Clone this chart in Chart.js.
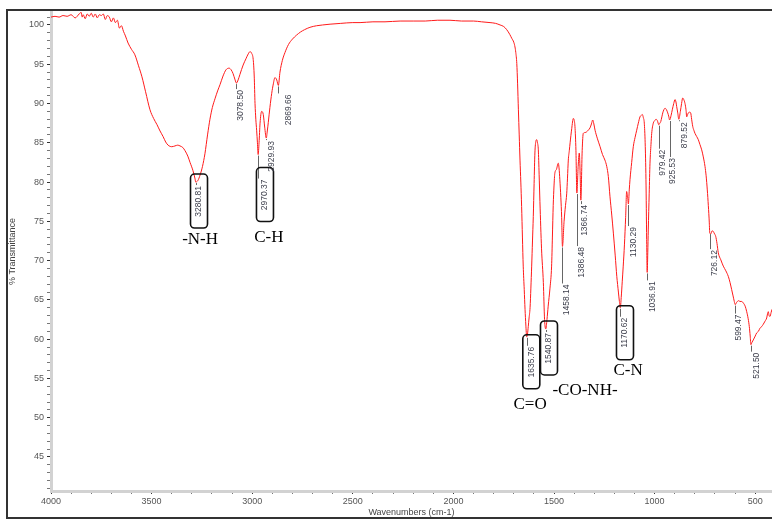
<!DOCTYPE html>
<html>
<head>
<meta charset="utf-8">
<script src="https://cdn.jsdelivr.net/npm/chart.js@4.4.0/dist/chart.umd.min.js"></script>
<style>
  html, body { margin: 0; padding: 0; background: #fff; overflow: hidden; }
  #frame { position: absolute; left: 6px; top: 9px; width: 800px; height: 506px; border: 2px solid #333; }
  #spectrum { position: absolute; left: 0; top: 0; }
</style>
</head>
<body>
<div id="frame"></div>
<canvas id="spectrum" width="772" height="520"></canvas>
<script>
// spectrum, wavenumber (cm-1) and %T
const wavenumbers = [
  4000, 3980, 3960, 3940, 3920, 3900, 3880, 3860, 3850, 3845, 3840, 3830, 3820, 3810, 3800,
  3790, 3780, 3770, 3760, 3750, 3740, 3730, 3720, 3710, 3700, 3690, 3680, 3670, 3660, 3650,
  3640, 3630, 3617, 3600, 3583, 3565, 3548, 3530, 3508, 3490, 3473, 3458, 3443, 3430, 3418,
  3400, 3384, 3370, 3359, 3345, 3334, 3320, 3309, 3295, 3284, 3281, 3270, 3259, 3247, 3235,
  3222, 3210, 3198, 3185, 3172, 3160, 3145, 3130, 3115, 3105, 3095, 3085, 3078.5, 3070, 3061,
  3045, 3031, 3020, 3011, 3003, 2995, 2990, 2986, 2982, 2978, 2974, 2970.4, 2966, 2961, 2953,
  2945, 2938, 2930, 2925, 2920, 2912, 2903, 2895, 2887, 2878, 2870, 2862, 2850, 2837, 2820,
  2800, 2780, 2760, 2740, 2713, 2680, 2650, 2613, 2560, 2500, 2464, 2400, 2340, 2265, 2200,
  2140, 2080, 2017, 1960, 1900, 1860, 1818, 1790, 1768, 1750, 1735, 1720, 1710, 1700, 1694,
  1690, 1685, 1681, 1677, 1673, 1669, 1665, 1661, 1657, 1653, 1648, 1644, 1640, 1635.8, 1632,
  1628, 1624, 1619, 1615, 1611, 1607, 1603, 1599, 1595, 1590, 1586, 1582, 1578, 1574, 1570,
  1562, 1553, 1547, 1540.9, 1535, 1529, 1520, 1512, 1508, 1504, 1500, 1496, 1488, 1479, 1475,
  1471, 1466, 1462, 1458.1, 1450, 1443, 1437, 1433, 1429, 1424, 1420, 1412, 1404, 1400, 1396,
  1391, 1386.5, 1380, 1374.4, 1370, 1366.7, 1360, 1354.5, 1346, 1337.6, 1330, 1321, 1314, 1307.7, 1302,
  1296, 1284, 1271, 1259, 1247, 1238, 1230, 1222, 1213, 1205, 1196, 1188, 1180, 1175, 1170.6,
  1166, 1161, 1156, 1150, 1144, 1139, 1134, 1130.3, 1126, 1122.4, 1114, 1106, 1097, 1089, 1081,
  1072.7, 1066, 1061.2, 1056, 1051.3, 1047, 1043, 1039.5, 1036.9, 1034, 1031.5, 1027, 1023, 1018, 1014.5,
  1006.6, 1000, 993, 986, 979.4, 974, 969.5, 964, 959.6, 954, 948.2, 941, 934.8, 930, 925.5,
  918, 912.2, 905, 898.7, 894, 890.3, 885, 879.8, 872, 866, 860.5, 855, 849, 844, 840.6,
  836, 832.6, 826, 820.7, 816, 810.7, 805, 799.3, 791, 782.9, 775, 766, 758, 749.6, 744,
  738.2, 733, 728.2, 726.1, 721, 714, 708.4, 702, 696.5, 690, 683.6, 671, 658.7, 646, 633.9,
  625, 617, 610, 604, 599.5, 592, 583, 575.6, 567, 559.1, 550, 542.3, 535, 529.4, 525,
  521.5, 516, 509.6, 500, 492.7, 484, 476.3, 468, 459.9, 451, 443, 439, 435, 431, 426.6,
  421, 416.6
];
const transmittance = [
  101.0, 101.1, 101.0, 101.2, 101.1, 101.3, 100.9, 101.4, 101.6, 101.0, 101.3, 100.8, 101.4, 101.1, 101.5,
  101.0, 101.4, 100.9, 101.3, 101.2, 101.4, 100.7, 101.2, 101.0, 100.4, 100.9, 100.3, 100.6, 99.6, 99.9,
  99.2, 98.6, 97.7, 96.9, 96.2, 94.8, 93.4, 91.5, 89.2, 88.1, 87.3, 86.5, 85.8, 85.1, 84.7,
  84.5, 84.6, 84.7, 84.6, 84.4, 84.0, 83.3, 82.5, 81.5, 80.4, 80.0, 80.2, 80.9, 82.0, 83.6,
  86.0, 88.0, 89.5, 90.6, 91.6, 92.4, 93.5, 94.3, 94.5, 94.3, 93.8, 93.0, 92.6, 93.0, 93.7,
  94.9, 95.7, 96.3, 96.6, 96.4, 95.6, 93.5, 90.0, 88.0, 86.6, 85.0, 83.5, 85.0, 87.5, 89.0,
  88.6, 87.0, 85.6, 86.5, 87.6, 89.5, 91.3, 92.5, 93.3, 93.0, 92.3, 94.0, 95.5, 96.5, 97.5,
  98.2, 98.7, 99.1, 99.4, 99.7, 99.9, 100.0, 100.1, 100.2, 100.3, 100.3, 100.4, 100.4, 100.5, 100.5,
  100.5, 100.6, 100.6, 100.5, 100.5, 100.4, 100.3, 100.2, 100.0, 99.8, 99.4, 98.8, 98.3, 97.8, 97.2,
  96.5, 95.1, 92.5, 89.2, 86.0, 82.8, 80.0, 76.9, 73.0, 69.3, 66.3, 63.8, 61.8, 60.3, 60.6,
  61.6, 62.7, 64.0, 66.5, 69.3, 72.5, 75.6, 79.8, 83.7, 85.2, 85.4, 85.0, 84.1, 81.0, 77.5,
  71.5, 67.2, 62.5, 61.3, 62.5, 64.2, 66.5, 69.3, 73.0, 77.0, 79.5, 81.1, 81.6, 82.4, 81.8,
  80.3, 78.0, 75.5, 71.8, 75.0, 77.0, 78.5, 80.5, 82.8, 84.0, 85.0, 86.8, 88.1, 87.9, 87.1,
  84.0, 78.6, 82.0, 83.7, 81.0, 77.7, 84.0, 86.2, 86.3, 86.4, 86.6, 86.9, 87.4, 87.9, 87.4,
  86.6, 85.5, 84.5, 83.5, 82.8, 82.0, 80.7, 78.2, 75.8, 73.5, 70.7, 68.0, 66.0, 64.8, 64.0,
  65.3, 67.3, 69.3, 72.0, 75.5, 78.8, 78.0, 77.2, 79.0, 80.3, 82.5, 84.5, 85.7, 86.6, 87.5,
  88.3, 88.5, 88.6, 88.2, 87.5, 85.0, 80.3, 72.7, 68.5, 71.0, 73.9, 78.5, 82.4, 84.8, 86.2,
  87.5, 87.8, 88.0, 87.8, 87.3, 87.5, 87.7, 88.3, 88.8, 89.2, 89.4, 89.2, 88.8, 88.4, 87.9,
  88.5, 89.2, 90.0, 90.5, 90.2, 89.6, 88.8, 88.0, 89.0, 90.0, 90.7, 90.5, 90.0, 89.2, 88.3,
  88.6, 88.8, 88.9, 88.8, 88.0, 87.1, 86.6, 86.2, 85.8, 85.4, 84.8, 84.1, 83.2, 82.0, 80.8,
  79.0, 77.0, 74.8, 73.5, 73.4, 73.8, 73.7, 73.4, 73.1, 72.2, 71.0, 70.1, 69.3, 68.7, 68.0,
  67.2, 66.3, 65.5, 64.8, 64.4, 64.7, 64.9, 64.8, 64.8, 64.6, 64.2, 63.5, 62.6, 61.6, 60.4,
  59.3, 59.6, 59.9, 60.4, 60.8, 61.0, 61.4, 61.6, 61.9, 62.3, 62.7, 63.2, 63.5, 63.0, 62.9,
  63.4, 63.8
];

// picked peaks
const peakLabels = ["3280.81", "3078.50", "2970.37", "2929.93", "2869.66", "1635.76", "1540.87",
  "1458.14", "1386.48", "1366.74", "1170.62", "1130.29", "1036.91", "979.42", "925.53", "879.52",
  "726.12", "599.47", "521.50"];
const peakWn = [3280.81, 3078.50, 2970.37, 2929.93, 2869.66, 1635.76, 1540.87, 1458.14, 1386.48,
  1366.74, 1170.62, 1130.29, 1036.91, 979.42, 925.53, 879.52, 726.12, 599.47, 521.50];
const peakT = [80.0, 92.6, 83.5, 85.6, 92.3, 60.3, 61.3, 71.8, 78.6, 77.7, 64.0, 77.2, 68.5,
  87.3, 87.9, 88.0, 73.5, 64.4, 59.3];

// functional group notes
const groupText = ["-N-H", "C-H", "C=O", "-CO-NH-", "C-N"];
const groupWn = [3259, 2917, 1619, 1346, 1132];
const groupT = [72.7, 72.9, 51.7, 53.5, 56.0];

const xTickLabels = [4000, 3500, 3000, 2500, 2000, 1500, 1000, 500];
const yTickLabels = [100, 95, 90, 85, 80, 75, 70, 65, 60, 55, 50, 45];

// label styling (px)
const labelDrop = [4, 7, 25, 3, 9, 10, 4, 38, 54, 5, 10, 23, 9, 25, 38, 3, 17, 10, 8];
const labelDx = [3.3, 4, 6.8, 5.4, 10, 4.6, 3.2, 4.6, 4.7, 3.5, 4.7, 5.5, 5.5, 3.5, 3.5, 6, 5, 3, 5.8];
const boxed = [true, false, true, false, false, true, true, false, false, false, true,
  false, false, false, false, false, false, false, false];

const peakPlugin = {
  id: "peaks",
  afterDatasetsDraw(chart) {
    const { ctx, scales: { x, y } } = chart;
    ctx.save();
    ctx.font = '8.5px "Liberation Sans", Arial, sans-serif';
    peakWn.forEach((wn, i) => {
      const px = x.getPixelForValue(wn);
      const py = y.getPixelForValue(peakT[i]);
      const top = py + labelDrop[i];
      const tx = px + labelDx[i];

      // leader
      ctx.strokeStyle = "#666";
      ctx.lineWidth = 1;
      ctx.beginPath();
      ctx.moveTo(Math.round(px) + 0.5, py + 1);
      ctx.lineTo(Math.round(px) + 0.5, Math.max(py + 2, top - 1));
      ctx.stroke();

      // vertical text, reads bottom to top
      ctx.save();
      ctx.translate(tx, top);
      ctx.rotate(-Math.PI / 2);
      ctx.fillStyle = "#3b3d4a";
      ctx.textAlign = "right";
      ctx.textBaseline = "middle";
      ctx.fillText(peakLabels[i], 0, 0);
      ctx.restore();

      if (boxed[i]) {
        ctx.strokeStyle = "#111";
        ctx.lineWidth = 1.6;
        ctx.beginPath();
        ctx.roundRect(tx - 8.5, top - 12, 17, 54, 4);
        ctx.stroke();
      }
    });

    ctx.fillStyle = "#000";
    ctx.font = '17px "Liberation Serif", "Times New Roman", serif';
    ctx.textAlign = "center";
    ctx.textBaseline = "middle";
    groupText.forEach((t, i) => {
      ctx.fillText(t, x.getPixelForValue(groupWn[i]), y.getPixelForValue(groupT[i]));
    });
    ctx.restore();
  }
};

new Chart(document.getElementById("spectrum"), {
  type: "line",
  data: {
    datasets: [{
      data: wavenumbers.map((w, i) => ({ x: w, y: transmittance[i] })),
      borderColor: "#ff1a1a",
      borderWidth: 1,
      pointRadius: 0,
      cubicInterpolationMode: "monotone",
      fill: false
    }]
  },
  options: {
    responsive: false,
    animation: false,
    layout: { padding: { left: 0, top: 12, right: 0, bottom: 0 } },
    plugins: { legend: { display: false }, tooltip: { enabled: false } },
    scales: {
      x: {
        type: "linear",
        reverse: true,
        min: 416.6,
        max: 4000,
        afterFit: s => { s.height = 29; },
        border: { display: true, color: "#d2d2d2", width: 3 },
        grid: {
          drawOnChartArea: false,
          drawTicks: true,
          tickLength: 3,
          tickColor: c => xTickLabels.includes(c.tick.value) ? "#333" : "#777"
        },
        ticks: {
          stepSize: 100,
          includeBounds: false,
          autoSkip: false,
          maxRotation: 0,
          padding: 2,
          color: "#555",
          font: { family: '"Liberation Sans", Arial, sans-serif', size: 9 },
          callback: v => xTickLabels.includes(v) ? String(v) : ""
        },
        title: {
          display: true,
          text: "Wavenumbers (cm-1)",
          color: "#444",
          font: { family: '"Liberation Sans", Arial, sans-serif', size: 9 },
          padding: { top: 0, bottom: 2 }
        }
      },
      y: {
        min: 40.67,
        max: 101.65,
        afterFit: s => { s.width = 51; },
        border: { display: true, color: "#d2d2d2", width: 3 },
        grid: {
          drawOnChartArea: false,
          drawTicks: true,
          tickLength: 4,
          tickColor: c => yTickLabels.includes(c.tick.value) ? "#333" : "#777"
        },
        ticks: {
          stepSize: 1,
          includeBounds: false,
          autoSkip: false,
          padding: 3,
          color: "#555",
          font: { family: '"Liberation Sans", Arial, sans-serif', size: 9 },
          callback: v => yTickLabels.includes(v) ? String(v) : ""
        },
        title: {
          display: true,
          text: "% Transmittance",
          color: "#444",
          font: { family: '"Liberation Sans", Arial, sans-serif', size: 9 },
          padding: { top: 7.5, bottom: 0 }
        }
      }
    }
  },
  plugins: [peakPlugin]
});
</script>
</body>
</html>
